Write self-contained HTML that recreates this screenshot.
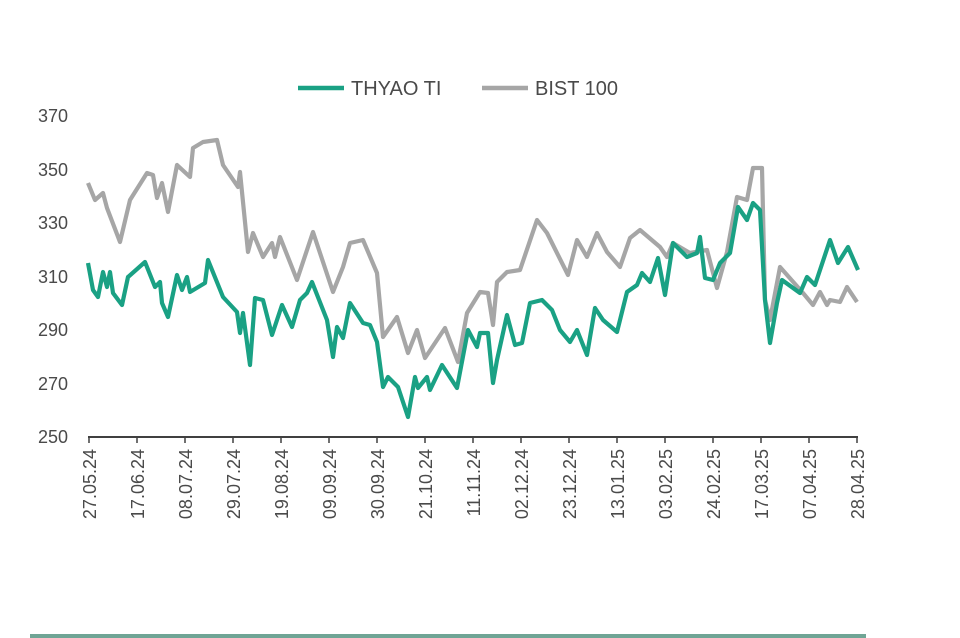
<!DOCTYPE html>
<html><head><meta charset="utf-8"><style>
html,body{margin:0;padding:0;background:#fff;width:960px;height:638px;overflow:hidden}
svg{display:block}
text{font-family:"Liberation Sans",sans-serif;fill:#4a4a4a}
</style></head><body>
<svg width="960" height="638" viewBox="0 0 960 638">
<line x1="298" y1="88" x2="344" y2="88" stroke="#1aa184" stroke-width="4.5"/>
<text x="351" y="95" font-size="20">THYAO TI</text>
<line x1="482" y1="88" x2="528" y2="88" stroke="#a6a6a6" stroke-width="4.5"/>
<text x="535" y="95" font-size="20">BIST 100</text>
<g font-size="18" text-anchor="end">
<text x="68" y="122">370</text><text x="68" y="176">350</text><text x="68" y="229">330</text>
<text x="68" y="283">310</text><text x="68" y="336">290</text><text x="68" y="390">270</text><text x="68" y="443">250</text>
</g>
<line x1="88" y1="437" x2="858" y2="437" stroke="#404040" stroke-width="2"/>
<g stroke="#404040" stroke-width="1.5">
<line x1="89" y1="437" x2="89" y2="443"/><line x1="137" y1="437" x2="137" y2="443"/><line x1="185" y1="437" x2="185" y2="443"/><line x1="233" y1="437" x2="233" y2="443"/><line x1="281" y1="437" x2="281" y2="443"/><line x1="329" y1="437" x2="329" y2="443"/><line x1="377" y1="437" x2="377" y2="443"/><line x1="425" y1="437" x2="425" y2="443"/><line x1="473" y1="437" x2="473" y2="443"/><line x1="521" y1="437" x2="521" y2="443"/><line x1="569" y1="437" x2="569" y2="443"/><line x1="617" y1="437" x2="617" y2="443"/><line x1="665" y1="437" x2="665" y2="443"/><line x1="713" y1="437" x2="713" y2="443"/><line x1="761" y1="437" x2="761" y2="443"/><line x1="809" y1="437" x2="809" y2="443"/><line x1="857" y1="437" x2="857" y2="443"/>
</g>
<g font-size="18" text-anchor="end">
<text transform="translate(96,449) rotate(-90)">27.05.24</text>
<text transform="translate(144,449) rotate(-90)">17.06.24</text>
<text transform="translate(192,449) rotate(-90)">08.07.24</text>
<text transform="translate(240,449) rotate(-90)">29.07.24</text>
<text transform="translate(288,449) rotate(-90)">19.08.24</text>
<text transform="translate(336,449) rotate(-90)">09.09.24</text>
<text transform="translate(384,449) rotate(-90)">30.09.24</text>
<text transform="translate(432,449) rotate(-90)">21.10.24</text>
<text transform="translate(480,449) rotate(-90)">11.11.24</text>
<text transform="translate(528,449) rotate(-90)">02.12.24</text>
<text transform="translate(576,449) rotate(-90)">23.12.24</text>
<text transform="translate(624,449) rotate(-90)">13.01.25</text>
<text transform="translate(672,449) rotate(-90)">03.02.25</text>
<text transform="translate(720,449) rotate(-90)">24.02.25</text>
<text transform="translate(768,449) rotate(-90)">17.03.25</text>
<text transform="translate(816,449) rotate(-90)">07.04.25</text>
<text transform="translate(864,449) rotate(-90)">28.04.25</text>
</g>
<polyline fill="none" stroke="#a6a6a6" stroke-width="4.2" stroke-linejoin="round" points="88,183 95,200 103,193 107,208 120,242 130,200 147,173 153,175 157,198 162,183 168,212 177,165 190,177 193,148 203,142 217,140 223,165 238,187 240,172 248,252 253,233 263,257 272,243 275,257 280,237 297,280 313,232 333,292 343,267 350,243 363,240 377,273 383,337 397,317 408,353 417,330 425,358 445,328 458,362 467,313 480,292 488,293 493,325 497,282 507,272 520,270 537,220 547,233 568,275 577,240 587,257 597,233 607,252 620,267 630,238 640,230 660,247 667,257 673,243 690,253 707,250 717,288 727,252 737,197 747,200 753,168 762,168 765,300 770,320 780,267 803,293 813,305 820,292 827,305 830,300 840,302 847,287 857,302"/>
<polyline fill="none" stroke="#1aa184" stroke-width="4.2" stroke-linejoin="round" points="88,263 93,290 98,297 103,272 107,287 110,272 113,293 122,305 128,277 145,262 155,287 160,282 162,303 168,317 177,275 182,290 187,277 190,292 205,283 208,260 223,297 237,312 240,333 243,313 250,365 255,298 263,300 272,335 282,305 292,327 300,300 307,293 312,282 327,320 333,357 337,327 343,338 350,303 363,323 370,325 377,342 383,387 388,377 398,387 408,417 415,377 418,388 427,377 430,390 442,365 457,388 468,330 477,347 480,333 488,333 493,383 497,360 507,315 515,345 522,343 530,303 542,300 552,310 560,330 570,342 577,330 587,355 595,308 603,320 617,332 627,292 637,285 642,273 650,282 658,258 665,295 673,243 687,257 697,253 700,237 705,278 713,280 720,263 730,253 738,207 747,220 753,203 760,210 765,300 770,343 777,303 782,280 800,293 807,277 815,285 830,240 838,263 848,247 858,270"/>
<rect x="30" y="634" width="836" height="4" fill="#6fa595"/>
</svg>
</body></html>
